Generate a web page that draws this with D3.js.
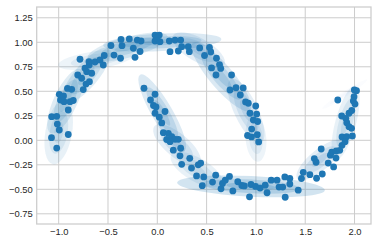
<!DOCTYPE html>
<html><head><meta charset="utf-8">
<script src="https://cdn.jsdelivr.net/npm/d3@7"></script>
<style>body{margin:0;background:#fff}svg{display:block}</style>
</head><body>
<script>
// ---- data ----
const pointX = [-1.073,-1.020,-0.903,-0.994,-1.014,-1.071,-1.020,-0.903,-0.982,-0.946,-0.885,-0.852,-0.994,-0.951,-0.911,-0.868,-0.751,-0.723,-0.688,-0.807,-0.767,-0.716,-0.665,-0.733,-0.690,-0.784,-0.693,-0.632,-0.581,-0.548,-0.538,-0.470,-0.439,-0.368,-0.358,-0.373,-0.284,-0.243,-0.226,-0.203,-0.165,-0.175,-0.023,0.020,-0.023,0.027,-0.003,0.122,0.180,0.237,0.129,0.213,0.247,0.314,0.325,0.430,0.479,0.529,0.542,0.600,0.631,0.550,0.643,0.595,0.753,0.737,0.798,0.871,0.842,0.895,0.923,0.998,0.940,1.008,0.974,1.018,0.957,0.915,0.955,1.014,1.028,
 -0.135,-0.023,-0.069,-0.039,-0.013,-0.023,0.078,0.020,0.045,0.061,0.112,0.095,0.146,0.180,0.213,0.129,0.162,0.237,0.230,0.329,0.247,0.347,0.415,0.440,0.398,0.471,0.456,0.560,0.592,0.646,0.661,0.689,0.732,0.766,0.816,0.857,0.882,0.935,0.950,0.996,1.042,1.094,1.113,1.155,1.214,1.234,1.272,1.293,1.297,1.344,1.344,1.429,1.462,1.480,1.547,1.615,1.673,1.592,1.610,1.662,1.733,1.755,1.769,1.788,1.812,1.815,1.850,1.873,1.873,1.921,1.978,1.904,1.870,1.911,1.921,1.944,1.970,1.944,1.972,1.998,2.020,1.995,1.988,2.005,1.830];
const pointY = [0.027,-0.079,0.059,0.105,0.166,0.241,0.245,0.309,0.411,0.394,0.394,0.406,0.469,0.452,0.529,0.520,0.518,0.574,0.598,0.666,0.633,0.700,0.684,0.735,0.768,0.827,0.802,0.799,0.819,0.768,0.865,0.967,0.870,1.029,0.965,0.837,1.034,0.939,0.847,1.023,1.013,0.906,1.074,1.074,1.013,1.006,1.044,1.013,1.023,1.023,0.904,0.911,0.955,0.955,0.904,0.942,0.865,0.947,0.901,0.837,0.773,0.738,0.733,0.666,0.666,0.513,0.537,0.534,0.462,0.391,0.378,0.350,0.276,0.268,0.207,0.192,0.115,0.049,0.034,0.057,-0.017,
 0.531,0.470,0.411,0.355,0.340,0.276,0.294,0.235,0.177,0.078,0.071,0.008,0.037,0.010,0.010,-0.014,-0.101,-0.081,-0.158,-0.184,-0.245,-0.283,-0.250,-0.232,-0.364,-0.374,-0.463,-0.426,-0.356,-0.495,-0.441,-0.407,-0.369,-0.517,-0.423,-0.461,-0.466,-0.577,-0.451,-0.471,-0.487,-0.458,-0.535,-0.407,-0.407,-0.477,-0.477,-0.374,-0.581,-0.390,-0.446,-0.509,-0.390,-0.327,-0.351,-0.387,-0.344,-0.186,-0.224,-0.089,-0.232,-0.152,-0.121,-0.272,-0.181,-0.109,-0.102,-0.051,0.034,0.037,0.044,-0.014,0.248,0.224,0.180,0.139,0.122,0.276,0.304,0.513,0.506,0.445,0.401,0.370,0.411];

// Gaussian mixture components (means, std devs along principal axes, angle in degrees, weight)
const compX      = [-1.00,-0.93,-0.72,-0.62,-0.30, 0.05, 0.42, 0.65, 0.90, 1.00, 0.05, 0.20, 0.40, 0.95, 1.65, 1.91, 1.90];
const compY      = [ 0.08, 0.40, 0.66, 0.82, 0.95, 1.00, 0.92, 0.65, 0.30, 0.02, 0.28,-0.05,-0.30,-0.47,-0.20, 0.18, 0.47];
const compSig1   = [ 0.11, 0.12, 0.12, 0.13, 0.14, 0.20, 0.10, 0.15, 0.12, 0.08, 0.15, 0.10, 0.10, 0.25, 0.10, 0.13, 0.09];
const compSig2   = [0.045, 0.04, 0.04, 0.03,0.035, 0.03, 0.04, 0.04, 0.04,0.035,0.035, 0.04, 0.04,0.035,0.035,0.035, 0.01];
const compAngle  = [   80,   65,   50,    8,   15,    3,  -30,  -50,  -65,   95,  -60,  -40,  -30,   -3,   40,   75,   33];
const compWeight = [ 0.05, 0.07, 0.07, 0.04, 0.07, 0.08, 0.06, 0.08, 0.06, 0.04, 0.08, 0.06, 0.05, 0.10, 0.06, 0.05, 0.01];

const xTicks = [-1.0,-0.5,0.0,0.5,1.0,1.5,2.0];
const yTicks = [-0.75,-0.5,-0.25,0.0,0.25,0.5,0.75,1.0,1.25];

// ---- layout ----
const W = 377, H = 244;
const L = 36.7, R = 371, T = 7, B = 224;
const x = d3.scaleLinear().domain([-1.223, 2.167]).range([L, R]);
const y = d3.scaleLinear().domain([-0.854, 1.360]).range([B, T]);
const C0 = "#1f77b4";

const svg = d3.select("body").append("svg").attr("width", W).attr("height", H)
  .style("font-family", "'Liberation Sans', Arial, sans-serif");

svg.append("defs").append("clipPath").attr("id","clip")
  .append("rect").attr("x", L).attr("y", T).attr("width", R-L).attr("height", B-T);

// grid
const grid = svg.append("g").attr("stroke", "#cccccc").attr("stroke-width", 1);
grid.selectAll("line.vx").data(xTicks).join("line")
  .attr("x1", d => x(d)).attr("x2", d => x(d)).attr("y1", T).attr("y2", B);
grid.selectAll("line.hy").data(yTicks).join("line")
  .attr("y1", d => y(d)).attr("y2", d => y(d)).attr("x1", L).attr("x2", R);

// axes (labels only, no tick marks)
const fmt2 = d3.format(".2f"), fmt1 = d3.format(".1f");
const xAxis = d3.axisBottom(x).tickValues(xTicks).tickFormat(fmt1).tickSize(0).tickPadding(4);
const yAxis = d3.axisLeft(y).tickValues(yTicks).tickFormat(fmt2).tickSize(0).tickPadding(4);
const gx = svg.append("g").attr("transform", `translate(0,${B})`).call(xAxis);
const gy = svg.append("g").attr("transform", `translate(${L},0)`).call(yAxis);
[gx, gy].forEach(g => {
  g.select(".domain").remove();
  g.selectAll("text").attr("fill", "#262626").style("font-size", "9.4px");
});

// ellipses drawn in data space
const kx = x(1) - x(0), ky = y(0) - y(1);
const eg = svg.append("g").attr("clip-path", "url(#clip)")
  .append("g").attr("transform", `translate(${x(0)},${y(0)}) scale(${kx},${-ky})`);
const wMax = d3.max(compWeight);
compX.forEach((cx, i) => {
  for (let n = 1; n <= 3; n++) {
    eg.append("ellipse")
      .attr("transform", `translate(${cx},${compY[i]}) rotate(${compAngle[i]})`)
      .attr("rx", n * compSig1[i]).attr("ry", n * compSig2[i])
      .attr("fill", C0).attr("fill-opacity", compWeight[i] * 0.2 / wMax);
  }
});

// points
svg.append("g").attr("clip-path", "url(#clip)")
  .selectAll("circle").data(pointX).join("circle")
  .attr("cx", d => x(d)).attr("cy", (d, i) => y(pointY[i])).attr("r", 3.4)
  .attr("fill", C0);

// spines
svg.append("rect").attr("x", L).attr("y", T).attr("width", R-L).attr("height", B-T)
  .attr("fill", "none").attr("stroke", "#cccccc").attr("stroke-width", 1.25);
</script>
</body></html>
